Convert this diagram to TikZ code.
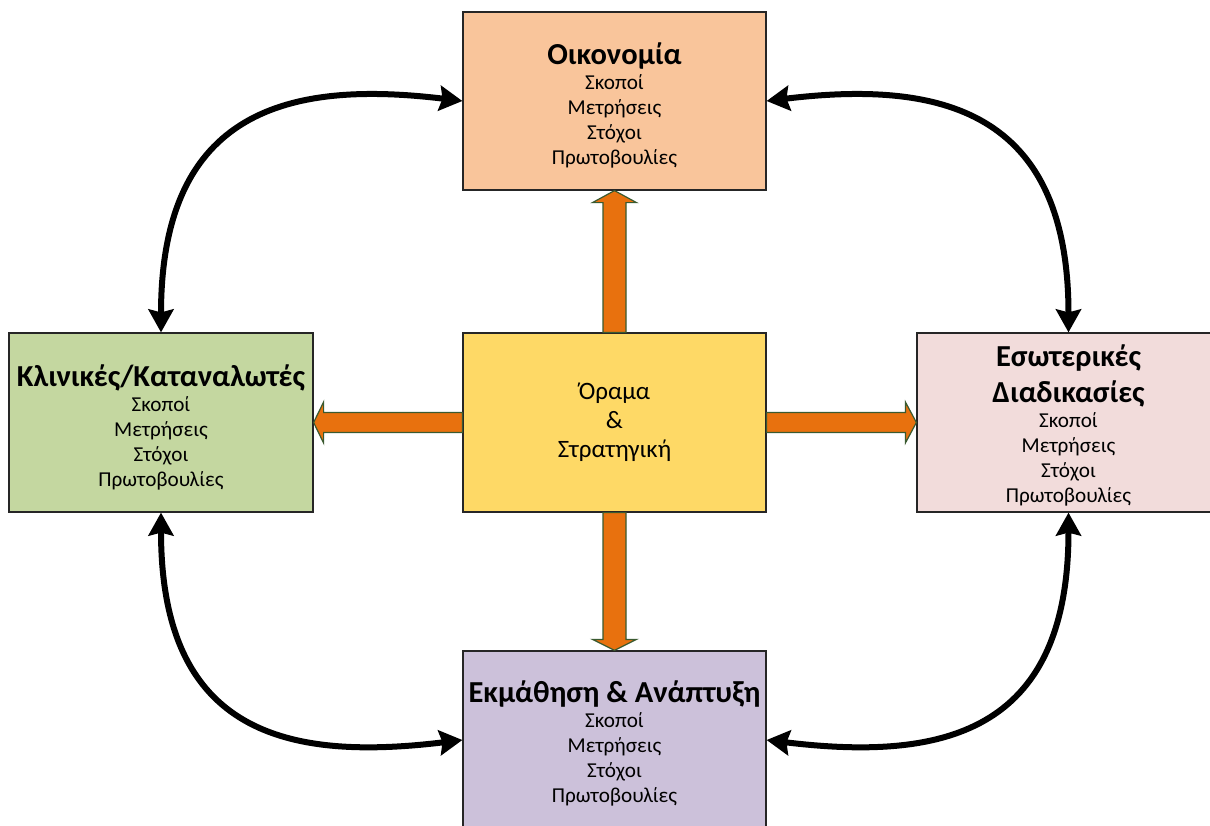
\documentclass[tikz,border=0pt]{standalone}
\usepackage{fontspec}
\setmainfont{Carlito}
\usetikzlibrary{arrows.meta,calc}
\definecolor{peach}{HTML}{F9C59B}
\definecolor{olivegreen}{HTML}{C4D7A0}
\definecolor{gold}{HTML}{FED966}
\definecolor{rose}{HTML}{F2DCDB}
\definecolor{lilac}{HTML}{CCC1DA}
\definecolor{arrorange}{HTML}{E8710E}
\definecolor{arrgreen}{HTML}{3A5A30}
\definecolor{boxline}{HTML}{262626}
\newcommand\boxtitle[1]{{\fontsize{30.5}{34}\selectfont\bfseries #1}}
\begin{document}
\begin{tikzpicture}[x=1pt,y=-1pt,
  box/.style={draw=boxline,line width=1.2pt,minimum width=303pt,minimum height=178pt,
    inner sep=0pt,align=center,font=\fontsize{21.2}{25}\selectfont},
  blk/.style={fill=arrorange,draw=arrgreen,line width=1.2pt,line join=miter},
  bidir/.style={line width=6pt,{Stealth[length=23pt,width=25pt,inset=3pt]}-{Stealth[length=23pt,width=25pt,inset=3pt]}}]
\clip (0,0) rectangle (1210,825);
\fill[white] (0,0) rectangle (1210,825);

\node[box,fill=peach] (t) at (614.5,101) {\rule{0pt}{30pt}\boxtitle{Οικονομία}\\Σκοποί\\Μετρήσεις\\Στόχοι\\Πρωτοβουλίες};
\node[box,fill=olivegreen,minimum width=304pt,minimum height=179pt] (l) at (161,422.5) {\rule{0pt}{31pt}\boxtitle{Κλινικές/Καταναλωτές}\\Σκοποί\\Μετρήσεις\\Στόχοι\\Πρωτοβουλίες};
\node[box,fill=gold,minimum height=179pt,font=\fontsize{25}{29}\selectfont] (c) at (614.5,422.5) {Όραμα\\\&\\Στρατηγική};
\node[box,fill=rose,minimum height=179pt] (r) at (1068.5,422.5) {\rule{0pt}{28pt}\boxtitle{Εσωτερικές}\\[9pt]\boxtitle{Διαδικασίες}\\Σκοποί\\Μετρήσεις\\Στόχοι\\Πρωτοβουλίες};
\node[box,fill=lilac] (b) at (614.5,740) {\rule{0pt}{29pt}\boxtitle{Εκμάθηση \& Ανάπτυξη}\\Σκοποί\\Μετρήσεις\\Στόχοι\\Πρωτοβουλίες};

% block arrows
\path[blk] ($(c.west)+(0,-10)$) -- ($(l.east)+(10,-10)$) -- ($(l.east)+(10,-20.5)$) -- (l.east)
  -- ($(l.east)+(10,20.5)$) -- ($(l.east)+(10,10)$) -- ($(c.west)+(0,10)$) -- cycle;
\path[blk] ($(c.east)+(0,-10)$) -- ($(r.west)+(-11,-10)$) -- ($(r.west)+(-11,-20.5)$) -- (r.west)
  -- ($(r.west)+(-11,20.5)$) -- ($(r.west)+(-11,10)$) -- ($(c.east)+(0,10)$) -- cycle;
\path[blk] ($(c.north)+(-11.5,0)$) -- ($(t.south)+(-11.5,12)$) -- ($(t.south)+(-22,12)$) -- (t.south)
  -- ($(t.south)+(22,12)$) -- ($(t.south)+(11.5,12)$) -- ($(c.north)+(11.5,0)$) -- cycle;
\path[blk] ($(c.south)+(-11.5,0)$) -- ($(b.north)+(-11.5,-11)$) -- ($(b.north)+(-22,-11)$) -- (b.north)
  -- ($(b.north)+(22,-11)$) -- ($(b.north)+(11.5,-11)$) -- ($(c.south)+(11.5,0)$) -- cycle;

% curved double arrows
\draw[bidir] (t.west) .. controls +(-173,-21) and +(0,-223) .. (l.north);
\draw[bidir] (t.east) .. controls +(173,-21) and +(0,-223) .. (r.north);
\draw[bidir] (b.west) .. controls +(-173,21) and +(0,223) .. (l.south);
\draw[bidir] (b.east) .. controls +(173,21) and +(0,223) .. (r.south);
\end{tikzpicture}
\end{document}
